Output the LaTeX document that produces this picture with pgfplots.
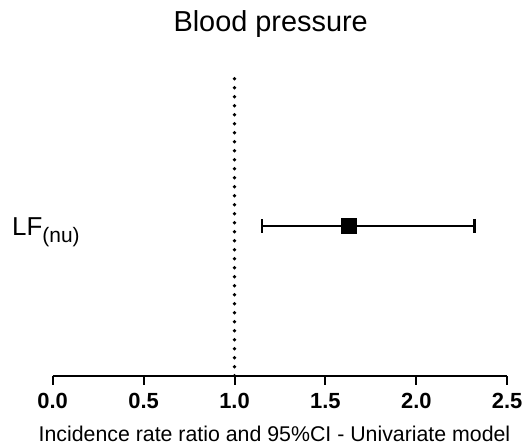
\documentclass[border=0pt]{standalone}
\usepackage{fontspec}
\setmainfont{Liberation Sans}
\usepackage{pgfplots}
\pgfplotsset{compat=1.18}

\begin{document}
\begin{tikzpicture}
% frame of the picture, in px of the reference (axis origin at 52.7,375.7)
\path[use as bounding box] (-52.7bp,-69.3bp) rectangle (478.3bp,375.7bp);
\begin{axis}[
    at={(0,0)}, anchor=origin,
    scale only axis,
    width=454.5bp,
    height=305.7bp,
    xmin=0, xmax=2.5,
    ymin=0, ymax=1,
    axis x line*=bottom,
    axis y line=none,
    x axis line style={line width=2bp, -},
    xtick={0,0.5,1,1.5,2,2.5},
    xticklabels={0.0,0.5,1.0,1.5,2.0,2.5},
    ytick=\empty,
    tick align=outside,
    major tick length=9bp,
    xtick style={line width=2bp, black},
    xticklabel style={font=\bfseries\fontsize{22}{22}\selectfont, anchor=base, yshift=-23.6bp},
    clip=false,
]
% reference line at ratio 1
\addplot[black, line width=3.8bp, line cap=round, dash pattern=on 0bp off 9bp] coordinates {(1,0) (1,1)};
% estimate with 95% CI
\addplot[black, line width=2.5bp, mark=square*, mark size=6.5bp,
    error bars/.cd, x dir=both, x explicit,
    error mark=|,
    error mark options={line width=2.5bp, mark size=7bp},
    error bar style={line width=2.5bp}]
    coordinates {(1.63,0.49) += (0.69,0) -= (0.48,0)};
\end{axis}
\node[anchor=base, inner sep=0] at (218bp,344bp) {\fontsize{29}{29}\selectfont Blood pressure};
\node[anchor=base, inner sep=0] at (221.8bp,-66.2bp) {\fontsize{21.4}{21.4}\selectfont Incidence rate ratio and 95\%CI - Univariate model};
\node[anchor=base west, inner sep=0] at (-40.7bp,139.7bp) {\fontsize{26}{26}\selectfont LF\fontsize{21}{21}\selectfont\raisebox{-7bp}{(nu)}};
\end{tikzpicture}
\end{document}
